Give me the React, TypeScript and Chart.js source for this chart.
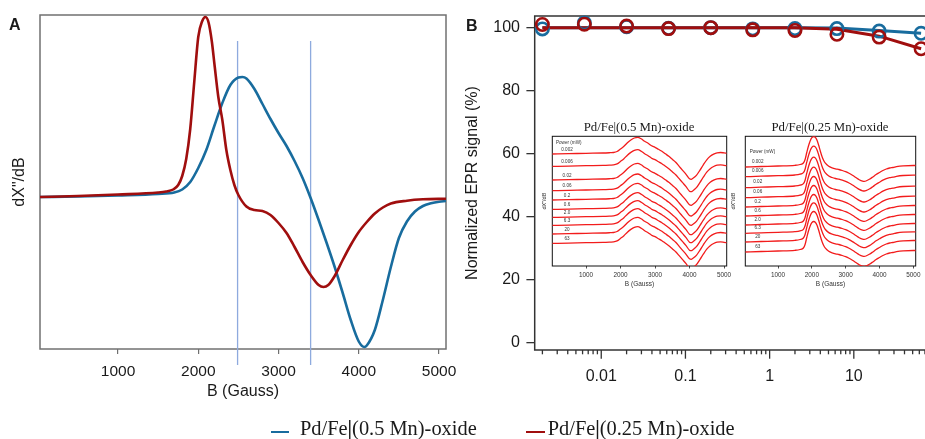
import React, { useEffect, useRef } from 'react';
import { Chart, registerables } from 'chart.js';

Chart.register(...registerables);

const SANS = "'Liberation Sans', Arial, sans-serif";
const SERIF = "'Liberation Serif', 'Times New Roman', serif";
const BLUE = '#186c9e';
const RED = '#a00e0e';
const GUIDE = '#8eaade';
const TRACE = '#f21c1c';
const INK = '#1a1a1a';

// ---------- Panel A : EPR spectra ----------
const blueFieldA = [28, 500, 1000, 1500, 1700, 1800, 1900, 2000, 2100, 2200, 2300, 2400, 2500, 2550, 2600, 2700, 2800, 2900, 3000, 3100, 3200, 3300, 3400, 3500, 3600, 3700, 3800, 3900, 4000, 4070, 4100, 4200, 4300, 4400, 4500, 4600, 4700, 4800, 4900, 5000, 5087];
const blueSignalA = [0, 0.5, 1.5, 3, 4.5, 7.5, 15, 29, 47, 71, 94, 112, 119.5, 120, 118.5, 108, 93, 78, 64, 51, 36, 19, -1, -23, -46, -70, -96, -123, -144.5, -150, -148.5, -133, -103, -70, -41, -24.5, -14.5, -9, -6.3, -4.7, -4];
const redFieldA = [28, 500, 1000, 1500, 1600, 1687, 1750, 1800, 1850, 1900, 1950, 2000, 2050, 2090, 2130, 2170, 2200, 2250, 2300, 2350, 2400, 2450, 2500, 2600, 2700, 2800, 2900, 3000, 3100, 3200, 3300, 3400, 3500, 3560, 3620, 3700, 3800, 3900, 4000, 4100, 4200, 4300, 4400, 4600, 4800, 5087];
const redSignalA = [0, 1, 2.5, 4.5, 5.5, 7.5, 12, 21, 38, 68, 115, 160, 176, 180, 174, 155, 134, 100, 77, 47, 27, 12, 2, -9.5, -13, -14, -18, -26, -36, -50, -65, -78, -88, -90, -88, -79, -63, -48, -35, -25, -16.5, -10.5, -6.5, -3.7, -2.3, -1.7];
const guideFieldsA = [2490, 3400];
const tickFieldsA = [1000, 2000, 3000, 4000, 5000];

// ---------- Panel B : power saturation ----------
const powerB = [0.002, 0.0063, 0.02, 0.063, 0.2, 0.63, 2.0, 6.3, 20, 63];
const blueMarkersB = [99.6, 101.5, 100.3, 99.8, 100.0, 99.6, 99.7, 99.7, 98.9, 98.2];
const redMarkersB = [101.0, 101.1, 100.5, 99.7, 100.0, 99.3, 99.1, 97.9, 97.0, 93.3];
const blueFitB = [100, 100, 100, 100, 100, 100, 100, 99.9, 99.1, 98.2];
const redFitB = [100, 100, 100, 100, 100, 100, 100, 99.5, 97.3, 93.3];
const yTicksB = [0, 20, 40, 60, 80, 100];
const majorTicksB = [0.01, 0.1, 1, 10];
const majorLabelsB = ['0.01', '0.1', '1', '10'];
const minorTicksB = [0.002, 0.003, 0.004, 0.005, 0.006, 0.007, 0.008, 0.009, 0.02, 0.03, 0.04, 0.05, 0.06, 0.07, 0.08, 0.09, 0.2, 0.3, 0.4, 0.5, 0.6, 0.7, 0.8, 0.9, 2, 3, 4, 5, 6, 7, 8, 9, 20, 30, 40, 50, 60, 70, 80, 90];

// ---------- Insets : stacked spectra ----------
const powerLabels = ['0.002', '0.006', '0.02', '0.06', '0.2', '0.6', '2.0', '6.3', '20', '63'];
const insetTicks = [1000, 2000, 3000, 4000, 5000];
const inset1Field = [23, 500, 1000, 1500, 1700, 1800, 1900, 2000, 2100, 2200, 2300, 2400, 2500, 2600, 2700, 2800, 2900, 3000, 3100, 3200, 3300, 3400, 3500, 3600, 3700, 3800, 3900, 4000, 4050, 4100, 4200, 4300, 4400, 4500, 4600, 4700, 4800, 4900, 5000, 5078];
const inset1Shape = [-0.7, -0.4, 0, 0.3, 0.6, 0.8, 1.8, 4.3, 7, 10.5, 13.3, 15.3, 16, 14.5, 12, 10, 7.5, 6, 4, 2, -0.5, -3, -6, -9, -13, -17, -21, -25.5, -26, -25, -22, -17, -11.5, -6.5, -3, -0.8, 0.5, 0.8, 0.4, 0];
const inset1Offsets = [112.7, 100.3, 86.7, 76, 66.7, 57.3, 49.3, 41.3, 32.7, 23.3];
const inset2Field = [33, 500, 1000, 1500, 1650, 1750, 1800, 1850, 1900, 1950, 2000, 2060, 2100, 2150, 2200, 2250, 2300, 2350, 2400, 2500, 2600, 2700, 2800, 2900, 3000, 3100, 3200, 3300, 3400, 3500, 3550, 3600, 3700, 3800, 3900, 4000, 4100, 4200, 4300, 4400, 4500, 4700, 5000, 5070];
const inset2Shape = [-1.5, -1, -0.5, 0.2, 1, 2.5, 6, 13, 19.5, 24.5, 27.8, 29, 28.3, 25.5, 20.5, 14.5, 9, 5, 2.3, -0.8, -2.3, -3.3, -4, -5, -6.2, -7.8, -9.8, -12, -14.2, -15.6, -15.8, -15.5, -13.8, -11.5, -9, -7, -5, -3.5, -2.5, -2, -1.2, -0.3, 0, 0];
const inset2Offsets = [100.5, 90.8, 79.8, 69.8, 60.5, 51.5, 42.5, 34.2, 25.5, 15.5];

const pts = (xs: number[], ys: number[]) => xs.map((x, i) => ({ x, y: ys[i] }));
const plain = (v: any) => String(v);

const framePlugin = (color: string, width: number) => ({
  id: 'frame',
  beforeDatasetsDraw(chart: any) {
    const { ctx, chartArea: a } = chart;
    ctx.save();
    ctx.strokeStyle = color;
    ctx.lineWidth = width;
    ctx.strokeRect(a.left, a.top, a.right - a.left, a.bottom - a.top);
    ctx.restore();
  },
});

const textPlugin = (items: { text: string; x: number; y: number; font: string; align?: string }[]) => ({
  id: 'texts',
  afterDraw(chart: any) {
    const ctx = chart.ctx;
    ctx.save();
    ctx.fillStyle = INK;
    ctx.textBaseline = 'alphabetic';
    items.forEach((it) => {
      ctx.font = it.font;
      ctx.textAlign = it.align || 'left';
      ctx.fillText(it.text, it.x, it.y);
    });
    ctx.restore();
  },
});

function configA(): any {
  return {
    type: 'line',
    data: {
      datasets: [
        { data: pts(redFieldA, redSignalA), borderColor: RED, borderWidth: 2.6, pointRadius: 0, cubicInterpolationMode: 'monotone' },
        { data: pts(blueFieldA, blueSignalA), borderColor: BLUE, borderWidth: 2.6, pointRadius: 0, cubicInterpolationMode: 'monotone' },
        ...guideFieldsA.map((g) => ({ data: [{ x: g, y: 156 }, { x: g, y: -168 }], borderColor: GUIDE, borderWidth: 1.3, pointRadius: 0, clip: false })),
      ],
    },
    options: {
      animation: false,
      responsive: false,
      devicePixelRatio: 1,
      layout: { padding: { left: 0, top: 15, right: 24, bottom: 37.4 } },
      plugins: { legend: { display: false }, tooltip: { enabled: false } },
      scales: {
        x: {
          type: 'linear', min: 28, max: 5087,
          afterBuildTicks: (s: any) => { s.ticks = tickFieldsA.map((value) => ({ value })); },
          afterFit: (s: any) => { s.height = 52.6; },
          grid: { display: true, drawOnChartArea: false, tickLength: 5, color: '#707070', lineWidth: 1.2 },
          border: { display: false },
          ticks: { callback: plain, padding: 8.9, font: { size: 15.5, family: SANS }, color: INK, maxRotation: 0, autoSkip: false },
          title: { display: true, text: 'B (Gauss)', font: { size: 16, family: SANS }, color: INK, padding: 0 },
        },
        y: {
          type: 'linear', min: -152, max: 182,
          afterFit: (s: any) => { s.width = 40; },
          grid: { display: false },
          border: { display: false },
          ticks: { display: false },
          title: { display: true, text: 'dX"/dB', font: { size: 16, family: SANS }, color: INK, padding: { top: 10.4, bottom: 0 } },
        },
      },
    },
    plugins: [framePlugin('#707070', 1.5), textPlugin([{ text: 'A', x: 9, y: 30, font: `bold 16px ${SANS}` }])],
  };
}

const logTicksPlugin = {
  id: 'logTicks',
  afterDraw(chart: any) {
    const s = chart.scales.x;
    const ctx = chart.ctx;
    const y0 = chart.chartArea.bottom;
    ctx.save();
    ctx.strokeStyle = '#333';
    ctx.lineWidth = 1.3;
    const draw = (vals: number[], len: number) =>
      vals.forEach((v) => {
        const px = s.getPixelForValue(v);
        ctx.beginPath();
        ctx.moveTo(px, y0);
        ctx.lineTo(px, y0 + len);
        ctx.stroke();
      });
    draw(majorTicksB, 8.7);
    draw(minorTicksB, 4.3);
    ctx.restore();
  },
};

function configB(): any {
  const marker = (vals: number[], color: string) => ({
    data: pts(powerB, vals), showLine: false, borderColor: color, pointBorderColor: color,
    pointBackgroundColor: 'rgba(0,0,0,0)', pointRadius: 6.2, pointBorderWidth: 2.6, clip: false,
  });
  const fit = (vals: number[], color: string) => ({
    data: pts(powerB, vals), borderColor: color, borderWidth: 3, pointRadius: 0, tension: 0,
  });
  return {
    type: 'line',
    data: {
      datasets: [
        marker(redMarkersB, RED),
        marker(blueMarkersB, BLUE),
        fit(redFitB, RED),
        fit(blueFitB, BLUE),
      ],
    },
    options: {
      animation: false,
      responsive: false,
      devicePixelRatio: 1,
      layout: { padding: { left: 0, top: 14, right: 22, bottom: 49 } },
      plugins: { legend: { display: false }, tooltip: { enabled: false } },
      scales: {
        x: {
          type: 'logarithmic', min: 0.00162, max: 100,
          afterBuildTicks: (s: any) => { s.ticks = majorTicksB.map((value) => ({ value })); },
          afterFit: (s: any) => { s.height = 40; },
          grid: { display: false, drawTicks: false, tickLength: 0 },
          border: { display: false },
          ticks: { callback: (_v: any, i: number) => majorLabelsB[i], padding: 16.7, font: { size: 16, family: SANS }, color: INK, autoSkip: false, maxRotation: 0 },
        },
        y: {
          type: 'linear', min: -2.4, max: 103.7,
          afterBuildTicks: (s: any) => { s.ticks = yTicksB.map((value) => ({ value })); },
          afterFit: (s: any) => { s.width = 74.7; },
          grid: { display: true, drawOnChartArea: false, tickLength: 8.3, color: '#333', lineWidth: 1.3 },
          border: { display: false },
          ticks: { callback: plain, padding: 6.4, font: { size: 16, family: SANS }, color: INK },
          title: { display: true, text: 'Normalized EPR signal (%)', font: { size: 16, family: SANS }, color: INK, padding: { top: 3.4, bottom: 0 } },
        },
      },
    },
    plugins: [framePlugin('#333', 1.5), logTicksPlugin, textPlugin([{ text: 'B', x: 6, y: 30.7, font: `bold 16px ${SANS}` }])],
  };
}

function configInset(p: {
  field: number[]; shape: number[]; offsets: number[]; min: number; max: number;
  yWidth: number; padRight: number; titlePad: number; title: string; titleX: number;
  labelField: number; headerField: number; headerV: number;
}): any {
  const labelsPlugin = {
    id: 'powerLabels',
    afterDatasetsDraw(chart: any) {
      const { ctx } = chart;
      const { x, y } = chart.scales;
      ctx.save();
      ctx.fillStyle = '#333';
      ctx.font = `4.6px ${SANS}`;
      ctx.textBaseline = 'middle';
      ctx.textAlign = 'center';
      powerLabels.forEach((t, i) => ctx.fillText(t, x.getPixelForValue(p.labelField), y.getPixelForValue(p.offsets[i] + 4)));
      ctx.textAlign = 'left';
      ctx.fillText('Power (mW)', x.getPixelForValue(p.headerField), y.getPixelForValue(p.headerV));
      ctx.restore();
    },
  };
  return {
    type: 'line',
    data: {
      datasets: p.offsets.map((off) => ({
        data: p.field.map((g, i) => ({ x: g, y: p.shape[i] + off })),
        borderColor: TRACE, borderWidth: 1.3, pointRadius: 0, cubicInterpolationMode: 'monotone',
      })),
    },
    options: {
      animation: false,
      responsive: false,
      devicePixelRatio: 1,
      layout: { padding: { left: 0, top: 21.3, right: p.padRight, bottom: 2.1 } },
      plugins: { legend: { display: false }, tooltip: { enabled: false } },
      scales: {
        x: {
          type: 'linear', min: p.min, max: p.max,
          afterBuildTicks: (s: any) => { s.ticks = insetTicks.map((value) => ({ value })); },
          afterFit: (s: any) => { s.height = 21.9; },
          grid: { display: true, drawOnChartArea: false, tickLength: 2.5, color: '#222', lineWidth: 0.8 },
          border: { display: false },
          ticks: { callback: plain, padding: 2.9, font: { size: 6.4, family: SANS }, color: '#333', maxRotation: 0, autoSkip: false },
          title: { display: true, text: 'B (Gauss)', font: { size: 6.5, family: SANS }, color: '#333', padding: 0 },
        },
        y: {
          type: 'linear', min: 0, max: 129.7,
          afterFit: (s: any) => { s.width = p.yWidth; },
          grid: { display: false },
          border: { display: false },
          ticks: { display: false },
          title: { display: true, text: 'dX"/dB', font: { size: 5.5, family: SANS }, color: '#333', padding: { top: p.titlePad, bottom: 0 } },
        },
      },
    },
    plugins: [
      framePlugin('#111', 1),
      labelsPlugin,
      textPlugin([{ text: p.title, x: p.titleX, y: 15.7, font: `12.8px ${SERIF}`, align: 'center' }]),
    ],
  };
}

function ChartBox(props: { left: number; top: number; width: number; height: number; make: () => any }) {
  const ref = useRef<HTMLCanvasElement>(null);
  useEffect(() => {
    const chart = new Chart(ref.current as HTMLCanvasElement, props.make());
    return () => chart.destroy();
  }, []);
  return (
    <canvas
      ref={ref}
      width={props.width}
      height={props.height}
      style={{ position: 'absolute', left: props.left, top: props.top, width: props.width, height: props.height }}
    />
  );
}

const legendText: React.CSSProperties = {
  position: 'absolute', top: 418, font: `20.4px ${SERIF}`, lineHeight: '20px', color: INK, whiteSpace: 'nowrap',
};
const bar: React.CSSProperties = { fontWeight: 'bold' };

export default function App() {
  return (
    <div style={{ position: 'fixed', left: 0, top: 0, width: 925, height: 439, overflow: 'hidden', background: '#fff' }}>
      <ChartBox left={0} top={0} width={470} height={439} make={configA} />
      <ChartBox left={460} top={0} width={500} height={439} make={configB} />
      <ChartBox
        left={538} top={115} width={210} height={175}
        make={() => configInset({
          field: inset1Field, shape: inset1Shape, offsets: inset1Offsets, min: 23, max: 5078,
          yWidth: 14.3, padRight: 21.3, titlePad: 3.0, title: 'Pd/Fe|(0.5 Mn)-oxide', titleX: 101,
          labelField: 450, headerField: 130, headerV: 123.3,
        })}
      />
      <ChartBox
        left={728} top={115} width={210} height={175}
        make={() => configInset({
          field: inset2Field, shape: inset2Shape, offsets: inset2Offsets, min: 33, max: 5070,
          yWidth: 17.3, padRight: 22.3, titlePad: 2.2, title: 'Pd/Fe|(0.25 Mn)-oxide', titleX: 102,
          labelField: 400, headerField: 163, headerV: 114.3,
        })}
      />
      <div style={{ position: 'absolute', left: 270.7, top: 430.7, width: 18.6, height: 2.4, background: BLUE }} />
      <div style={{ ...legendText, left: 300 }}>Pd/Fe<span style={bar}>|</span>(0.5 Mn)-oxide</div>
      <div style={{ position: 'absolute', left: 526, top: 430.7, width: 18.7, height: 2.4, background: RED }} />
      <div style={{ ...legendText, left: 547.7 }}>Pd/Fe<span style={bar}>|</span>(0.25 Mn)-oxide</div>
    </div>
  );
}
